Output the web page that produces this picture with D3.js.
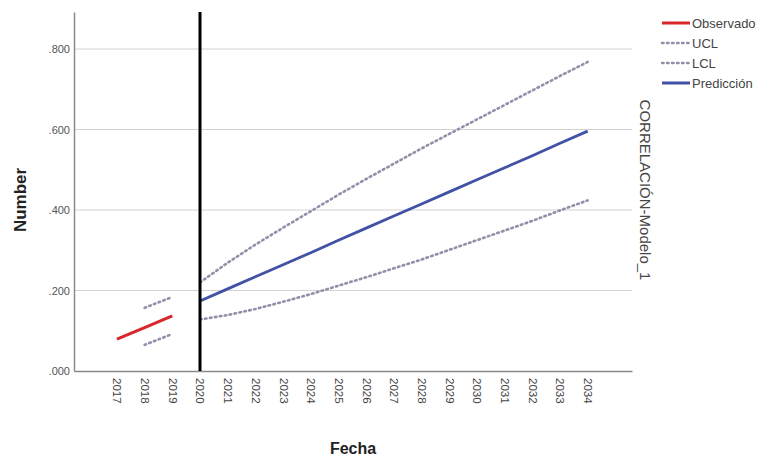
<!DOCTYPE html>
<meta charset="utf-8">
<style>
  body { margin: 0; background: #fff; }
  text { font-family: "Liberation Sans Narrow", "Arial Narrow", "Liberation Sans", Arial, sans-serif; }
</style>
<svg width="764" height="458" id="chart"></svg>
<script src="https://d3js.org/d3.v7.min.js"></script>
<script>

// observed period
var obsYears = [2017, 2018, 2019]
var observado = [0.079, 0.108, 0.137]
var histBandYears = [2018, 2019]
var histUCL = [0.157, 0.184]
var histLCL = [0.065, 0.092]

// forecast period
var predYears = [2020, 2021, 2022, 2023, 2024, 2025, 2026, 2027, 2028, 2029, 2030, 2031, 2032, 2033, 2034]
var prediccion = [0.174, 0.204, 0.234, 0.264, 0.294, 0.325, 0.355, 0.385, 0.415, 0.445, 0.475, 0.505, 0.535, 0.566, 0.596]
var predUCL = [0.220, 0.269, 0.314, 0.356, 0.397, 0.438, 0.477, 0.515, 0.553, 0.589, 0.625, 0.661, 0.697, 0.733, 0.768]
var predLCL = [0.128, 0.139, 0.154, 0.172, 0.191, 0.212, 0.233, 0.255, 0.277, 0.301, 0.325, 0.349, 0.373, 0.399, 0.424]

var tickYears = [2017, 2018, 2019, 2020, 2021, 2022, 2023, 2024, 2025, 2026, 2027, 2028, 2029, 2030, 2031, 2032, 2033, 2034]
var yTicks = [0, 0.2, 0.4, 0.6, 0.8]
var cutYear = 2020

var legendItems = [
  {name: "Observado", color: "#d9262c", dash: null},
  {name: "UCL", color: "#9090a8", dash: "1.6,3.4"},
  {name: "LCL", color: "#9090a8", dash: "1.6,3.4"},
  {name: "Predicción", color: "#4152a6", dash: null}
]

var svg = d3.select("#chart")

var x = d3.scaleLinear().domain([2015.45, 2035.6]).range([74, 632])
var y = d3.scaleLinear().domain([0, 0.892]).range([371, 12])

// grid
svg.selectAll(".grid").data(yTicks.slice(1)).enter().append("line")
  .attr("class", "grid")
  .attr("x1", x.range()[0]).attr("x2", x.range()[1])
  .attr("y1", d => y(d)).attr("y2", d => y(d))
  .attr("stroke", "#d2d2d2").attr("stroke-width", 1)

// y axis
var ya = svg.append("g")
  .attr("transform", "translate(74,0)")
  .call(d3.axisLeft(y).tickValues(yTicks).tickSize(0).tickPadding(4)
    .tickFormat(d => d3.format(".3f")(d).replace(/^0/, "")))
ya.select(".domain").attr("stroke", "#8a8a8a").attr("stroke-width", 1.5)
ya.selectAll("text").attr("font-size", 11).attr("fill", "#555")

// x axis
var xa = svg.append("g")
  .attr("transform", "translate(0,371)")
  .call(d3.axisBottom(x).tickValues(tickYears).tickSize(0).tickFormat(d3.format("d")))
xa.select(".domain").attr("stroke", "#8a8a8a").attr("stroke-width", 1.5)
xa.selectAll("text")
  .attr("font-size", 11.5).attr("fill", "#444")
  .attr("transform", "rotate(90)")
  .attr("x", 7).attr("y", 0).attr("dy", "0.35em")
  .style("text-anchor", "start")

function draw(xs, ys, color, dash, width) {
  var pts = xs.map((d, i) => [d, ys[i]])
  svg.append("path")
    .datum(pts)
    .attr("fill", "none")
    .attr("stroke", color)
    .attr("stroke-width", width)
    .attr("stroke-dasharray", dash)
    .attr("stroke-linecap", dash ? "round" : "butt")
    .attr("d", d3.line().x(d => x(d[0])).y(d => y(d[1])))
}

draw(histBandYears, histUCL, "#9090a8", "1.6,3.4", 2.6)
draw(histBandYears, histLCL, "#9090a8", "1.6,3.4", 2.6)
draw(predYears, predUCL, "#9090a8", "1.6,3.4", 2.6)
draw(predYears, predLCL, "#9090a8", "1.6,3.4", 2.6)
draw(obsYears, observado, "#d9262c", null, 3)
draw(predYears, prediccion, "#4152a6", null, 2.8)

// reference line at the start of the forecast
svg.append("line")
  .attr("x1", x(cutYear)).attr("x2", x(cutYear))
  .attr("y1", y.range()[1]).attr("y2", y.range()[0])
  .attr("stroke", "#000").attr("stroke-width", 3)

// titles
svg.append("text")
  .attr("transform", "translate(26,200) rotate(-90)")
  .attr("text-anchor", "middle")
  .attr("font-size", 17).attr("font-weight", "bold")
  .style("font-family", "Liberation Sans, Arial, sans-serif")
  .attr("fill", "#222")
  .text("Number")

svg.append("text")
  .attr("x", 353).attr("y", 454)
  .attr("text-anchor", "middle")
  .attr("font-size", 16).attr("font-weight", "bold")
  .style("font-family", "Liberation Sans, Arial, sans-serif")
  .attr("fill", "#222")
  .text("Fecha")

svg.append("text")
  .attr("transform", "translate(640,190) rotate(90)")
  .attr("text-anchor", "middle")
  .attr("font-size", 15).attr("fill", "#444")
  .text("CORRELACIÓN-Modelo_1")

// legend
var leg = svg.selectAll(".leg").data(legendItems).enter().append("g")
  .attr("class", "leg")
  .attr("transform", (d, i) => "translate(662," + (23 + i * 20) + ")")
leg.append("line")
  .attr("x1", 0).attr("x2", 28)
  .attr("stroke", d => d.color)
  .attr("stroke-width", d => d.dash ? 2.4 : 3)
  .attr("stroke-dasharray", d => d.dash)
  .attr("stroke-linecap", d => d.dash ? "round" : "butt")
leg.append("text")
  .attr("x", 30).attr("dy", "0.35em")
  .attr("font-size", 13).attr("fill", "#444")
  .text(d => d.name)

</script>
